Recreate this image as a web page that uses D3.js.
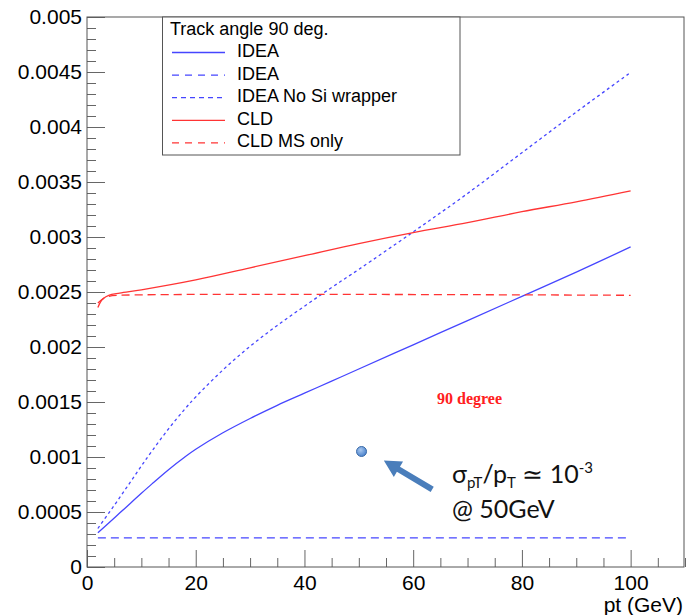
<!DOCTYPE html>
<html>
<head>
<meta charset="utf-8">
<script src="https://cdn.jsdelivr.net/npm/d3@7"></script>
<style>
  body { margin: 0; background: #fff; }
  svg { display: block; font-family: "Liberation Sans", Arial, sans-serif; }
</style>
</head>
<body>
<svg id="chart" width="687" height="615"></svg>
<script>
// pt values (GeV) and sigma(pt)/pt
var ptIdea = [2, 4, 6, 8, 10, 12, 15, 18, 20, 25, 30, 35, 40, 45, 50, 60, 70, 80, 90, 100];
var idea = [0.000312, 0.0004, 0.00049, 0.00058, 0.00067, 0.000758, 0.000885, 0.001, 0.00107, 0.00122,
  0.00135, 0.00147, 0.00158, 0.00169, 0.0018, 0.00202, 0.00224, 0.00246, 0.00268, 0.00291];
var ideaNoSi = [0.00035, 0.00049, 0.00063, 0.000774, 0.000918, 0.001058, 0.001256, 0.001436, 0.001546, 0.001791,
  0.002006, 0.002196, 0.002371, 0.002541, 0.002706, 0.003046, 0.003396, 0.003766, 0.004136, 0.004496];
var ptIdeaMS = [2, 100];
var ideaMS = [0.000265, 0.000265];
var ptCld = [2, 2.5, 3, 4, 6, 10, 20, 30, 40, 50, 60, 70, 80, 90, 100];
var cld = [0.00236, 0.00241, 0.00244, 0.00247, 0.00249, 0.00252, 0.00261, 0.00272, 0.00283, 0.00294,
  0.00304, 0.00313, 0.00323, 0.00332, 0.00342];
var ptCldMS = [2, 3, 4, 6, 100];
var cldMS = [0.0024, 0.00244, 0.00246, 0.00247, 0.00247];

var xTicks = [0, 20, 40, 60, 80, 100];
var xTickLabels = ["0", "20", "40", "60", "80", "100"];
var yTicks = [0, 0.0005, 0.001, 0.0015, 0.002, 0.0025, 0.003, 0.0035, 0.004, 0.0045, 0.005];
var yTickLabels = ["0", "0.0005", "0.001", "0.0015", "0.002", "0.0025", "0.003", "0.0035", "0.004", "0.0045", "0.005"];

var legendTitle = "Track angle 90 deg.";
var legendNames = ["IDEA", "IDEA", "IDEA No Si wrapper", "CLD", "CLD MS only"];

var marker = { pt: 50.5, v: 0.00105 };
var arrowTail = { pt: 63.5, v: 0.000706 };
var arrowTip = { pt: 54.6, v: 0.000968 };

var BLUE = "#4646ff", RED = "#ff3434";

var svg = d3.select("#chart"),
  MARGINS = { top: 17, right: 2, bottom: 48, left: 87 },
  WIDTH = 687, HEIGHT = 615;

var x = d3.scaleLinear().domain([0, 110]).range([MARGINS.left, WIDTH - MARGINS.right]);
var y = d3.scaleLinear().domain([0, 0.005]).range([HEIGHT - MARGINS.bottom, MARGINS.top]);

// axes: ticks point into the frame, like ROOT
var xMinor = d3.range(0, 111, 5).filter(function (d) { return d % 20 !== 0; });
var yMinor = d3.range(0, 51).map(function (d) { return d * 0.0001; })
  .filter(function (d, i) { return i % 5 !== 0; });

function styleAxis(g) {
  g.select(".domain").remove();
  g.selectAll("line").attr("stroke", "#666");
  g.selectAll("text").attr("fill", "#000").style("font-size", "21px")
    .style("font-family", "'Liberation Sans', Arial, sans-serif");
}

svg.append("g")
  .attr("transform", "translate(0," + y(0) + ")")
  .call(d3.axisBottom(x).tickValues(xMinor).tickSize(-9).tickFormat(""))
  .call(styleAxis);
svg.append("g")
  .attr("transform", "translate(0," + y(0) + ")")
  .call(d3.axisBottom(x).tickValues(xTicks).tickSize(-17).tickPadding(8)
    .tickFormat(function (d, i) { return xTickLabels[i]; }))
  .call(styleAxis);

svg.append("g")
  .attr("transform", "translate(" + x(0) + ",0)")
  .call(d3.axisLeft(y).tickValues(yMinor).tickSize(-9).tickFormat(""))
  .call(styleAxis);
svg.append("g")
  .attr("transform", "translate(" + x(0) + ",0)")
  .call(d3.axisLeft(y).tickValues(yTicks).tickSize(-18).tickPadding(5)
    .tickFormat(function (d, i) { return yTickLabels[i]; }))
  .call(styleAxis);

// frame
svg.append("rect")
  .attr("x", x(0)).attr("y", y(0.005))
  .attr("width", x(110) - x(0) - 1).attr("height", y(0) - y(0.005))
  .attr("fill", "none").attr("stroke", "#555").attr("stroke-width", 1);

svg.append("text")
  .attr("x", x(110) - 2).attr("y", 612)
  .attr("text-anchor", "end")
  .style("font-size", "21px")
  .text("pt (GeV)");

// curves
var line = d3.line()
  .x(function (d) { return x(d[0]); })
  .y(function (d) { return y(d[1]); })
  .curve(d3.curveCatmullRom.alpha(0.5));

function zip(a, b) { return a.map(function (d, i) { return [d, b[i]]; }); }

var series = [
  { pts: zip(ptIdea, idea), color: BLUE, dash: null },
  { pts: zip(ptIdeaMS, ideaMS), color: BLUE, dash: "8,5" },
  { pts: zip(ptIdea, ideaNoSi), color: BLUE, dash: "3,3" },
  { pts: zip(ptCld, cld), color: RED, dash: null },
  { pts: zip(ptCldMS, cldMS), color: RED, dash: "8,5" }
];

series.forEach(function (s) {
  svg.append("path")
    .attr("d", line(s.pts))
    .attr("fill", "none")
    .attr("stroke", s.color)
    .attr("stroke-width", 1.3)
    .attr("stroke-dasharray", s.dash);
});

// legend
var lg = svg.append("g");
lg.append("rect")
  .attr("x", 162.5).attr("y", y(0.005))
  .attr("width", 297.5).attr("height", 138)
  .attr("fill", "#fff").attr("stroke", "#555");
lg.append("text")
  .attr("x", 170).attr("y", 35)
  .style("font-size", "18px")
  .text(legendTitle);
legendNames.forEach(function (name, i) {
  var by = 57 + i * 22.6;
  lg.append("line")
    .attr("x1", 172).attr("x2", 225)
    .attr("y1", by - 4.5).attr("y2", by - 4.5)
    .attr("stroke", series[i].color)
    .attr("stroke-width", 1.3)
    .attr("stroke-dasharray", series[i].dash ? (i === 2 ? "5,4" : "7,6") : null);
  lg.append("text")
    .attr("x", 237).attr("y", by)
    .style("font-size", "18px")
    .text(name);
});

// annotations
svg.append("text")
  .attr("x", 437).attr("y", 404)
  .attr("fill", "#ff2020")
  .style("font-family", "'Liberation Serif', 'Times New Roman', serif")
  .style("font-weight", "bold")
  .style("font-size", "16px")
  .text("90 degree");

var grad = svg.append("defs").append("radialGradient")
  .attr("id", "dot").attr("cx", "40%").attr("cy", "35%").attr("r", "65%");
grad.append("stop").attr("offset", "0%").attr("stop-color", "#a9c8ef");
grad.append("stop").attr("offset", "100%").attr("stop-color", "#4a82cc");

svg.append("circle")
  .attr("cx", x(marker.pt)).attr("cy", y(marker.v))
  .attr("r", 5)
  .attr("fill", "url(#dot)")
  .attr("stroke", "#3b6ba8")
  .attr("stroke-width", 1);

// block arrow
(function () {
  var x0 = x(arrowTail.pt), y0 = y(arrowTail.v),
    x1 = x(arrowTip.pt), y1 = y(arrowTip.v);
  var dx = x1 - x0, dy = y1 - y0, len = Math.sqrt(dx * dx + dy * dy);
  var ux = dx / len, uy = dy / len, nx = -uy, ny = ux;
  var headLen = 17, headW = 9, shaftW = 3;
  var bx = x1 - ux * headLen, by = y1 - uy * headLen;
  var pts = [
    [x0 + nx * shaftW, y0 + ny * shaftW],
    [bx + nx * shaftW, by + ny * shaftW],
    [bx + nx * headW, by + ny * headW],
    [x1, y1],
    [bx - nx * headW, by - ny * headW],
    [bx - nx * shaftW, by - ny * shaftW],
    [x0 - nx * shaftW, y0 - ny * shaftW]
  ];
  svg.append("path")
    .attr("d", "M" + pts.map(function (p) { return p.join(","); }).join("L") + "Z")
    .attr("fill", "#4a7ebb");
})();

var note = svg.append("text")
  .attr("x", 452).attr("y", 483)
  .style("font-family", "Lato, 'Open Sans', sans-serif")
  .style("font-size", "25px")
  .attr("fill", "#111");
note.append("tspan").text("σ");
note.append("tspan").attr("dy", 5).style("font-size", "15px").text("pT");
note.append("tspan").attr("dy", -5).text("/p");
note.append("tspan").attr("dy", 5).style("font-size", "15px").text("T");
note.append("tspan").attr("dy", -5).text(" ≃ 10");
note.append("tspan").attr("dy", -10).style("font-size", "15px").text("-3");

svg.append("text")
  .attr("x", 452).attr("y", 518)
  .style("font-family", "Lato, 'Open Sans', sans-serif")
  .style("font-size", "25px")
  .attr("fill", "#111")
  .text("@ 50GeV");
</script>
</body>
</html>
